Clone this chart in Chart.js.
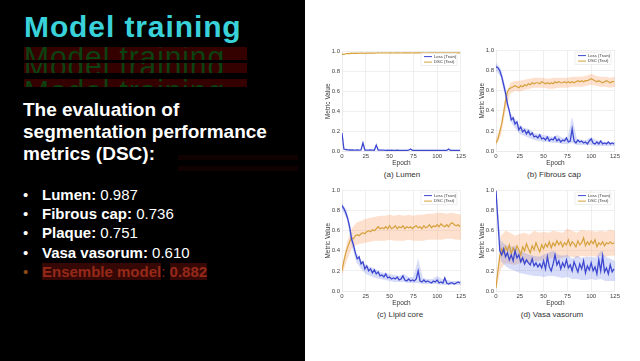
<!DOCTYPE html>
<html>
<head>
<meta charset="utf-8">
<script src="https://cdn.jsdelivr.net/npm/chart.js@4.4.1/dist/chart.umd.min.js"></script>
<style>
html, body { margin: 0; padding: 0; }
body { width: 640px; height: 361px; position: relative; overflow: hidden; background: #fff; font-family: "Liberation Sans", Arial, sans-serif; }
#left { position: absolute; left: 0; top: 0; width: 305px; height: 361px; background: #000; overflow: hidden; }
.title { position: absolute; left: 24px; top: 12px; font-size: 30px; line-height: 30px; font-weight: bold; color: #3ad2da; letter-spacing: 0.9px; white-space: nowrap; }
.ghost { position: absolute; left: 24px; width: 223px; background: #350000; overflow: hidden; }
.ghost span { position: absolute; left: 0; font-size: 30px; line-height: 30px; color: #0b4210; white-space: nowrap; letter-spacing: 0.9px; }
.faint { position: absolute; left: 178px; width: 120px; height: 5px; background: #110202; }
.intro { position: absolute; left: 23px; top: 99px; font-size: 19px; line-height: 22px; font-weight: bold; color: #fff; white-space: nowrap; }
.bullets { position: absolute; left: 23px; top: 185px; margin: 0; padding: 0; list-style: none; font-size: 15px; line-height: 19.2px; color: #fff; white-space: nowrap; }
.bullets li { position: relative; padding-left: 19px; }
.bullets li:before { content: "\2022"; position: absolute; left: 0; }
.bullets b { font-weight: bold; }
.bullets li.ens { color: #962818; }
.bullets li.ens:before { color: #8a4b1a; }
.hl { background: #350806; font-weight: bold; }
canvas { position: absolute; }
.cap { position: absolute; width: 120px; margin-left: -60px; text-align: center; font-size: 8px; line-height: 10px; color: #333; white-space: nowrap; }
</style>
</head>
<body>
<div id="left">
  <div class="title">Model training</div>
  <div class="ghost" style="top:47px;height:13px"><span style="top:-5px">Model training</span></div>
  <div class="ghost" style="top:63px;height:10px"><span style="top:-12px">Model training</span></div>
  <div class="ghost" style="top:79px;height:8px"><span style="top:-3px">Model training</span></div>
  <div class="faint" style="top:155px"></div>
  <div class="faint" style="top:166px"></div>
  <div class="intro">The evaluation of<br>segmentation performance<br>metrics (DSC):</div>
  <ul class="bullets">
    <li><b>Lumen:</b> 0.987</li>
    <li><b>Fibrous cap:</b> 0.736</li>
    <li><b>Plaque:</b> 0.751</li>
    <li><b>Vasa vasorum:</b> 0.610</li>
    <li class="ens"><span class="hl">Ensemble model</span>: <span class="hl">0.882</span></li>
  </ul>
</div>

<canvas id="chartLumen" width="144" height="121" style="left:324px;top:46px"></canvas>
<canvas id="chartFibrous" width="144" height="122" style="left:478px;top:45px"></canvas>
<canvas id="chartLipid" width="144" height="122" style="left:324px;top:185px"></canvas>
<canvas id="chartVasa" width="144" height="122" style="left:478px;top:185px"></canvas>

<div class="cap" style="left:402px;top:170px">(a) Lumen</div>
<div class="cap" style="left:554px;top:170px">(b) Fibrous cap</div>
<div class="cap" style="left:400px;top:310px">(c) Lipid core</div>
<div class="cap" style="left:552px;top:310px">(d) Vasa vasorum</div>

<script>
// epochs for the mean curves (every 2nd epoch) and for the std bands (every 5th)
var EPOCHS = [0,2,4,6,8,10,12,14,16,18,20,22,24,26,28,30,32,34,36,38,40,42,44,46,48,50,52,54,56,58,
  60,62,64,66,68,70,72,74,76,78,80,82,84,86,88,90,92,94,96,98,100,102,104,106,108,110,112,114,116,118,120,122,124];
var BAND_EPOCHS = [0,5,10,15,20,25,30,35,40,45,50,55,60,65,70,75,80,85,90,95,100,105,110,115,120,125];
var X_TICKS = [0,25,50,75,100,125];
var Y_TICKS = [0,0.2,0.4,0.6,0.8,1.0];

// (a) Lumen
var lumenLoss = [0.18,0.02,0.015,0.012,0.01,0.012,0.01,0.009,0.01,0.008,
  0.01,0.08,0.01,0.009,0.008,0.01,0.009,0.008,0.06,0.01,
  0.009,0.008,0.008,0.007,0.008,0.007,0.008,0.007,0.007,0.008,
  0.007,0.006,0.007,0.006,0.007,0.008,0.02,0.007,0.006,0.006,
  0.006,0.007,0.006,0.005,0.006,0.006,0.005,0.006,0.005,0.006,
  0.005,0.005,0.006,0.005,0.005,0.006,0.02,0.005,0.005,0.005,
  0.005,0.005,0.005];
var lumenDsc = [0.975,0.972,0.978,0.982,0.980,0.984,0.983,0.985,0.982,0.986,
  0.984,0.986,0.983,0.985,0.986,0.984,0.986,0.985,0.986,0.987,
  0.986,0.987,0.986,0.987,0.986,0.987,0.987,0.986,0.987,0.987,
  0.987,0.986,0.987,0.987,0.988,0.987,0.987,0.986,0.987,0.987,
  0.987,0.988,0.987,0.987,0.986,0.987,0.987,0.988,0.987,0.987,
  0.987,0.987,0.988,0.987,0.987,0.987,0.988,0.987,0.987,0.987,
  0.987,0.988,0.987];

// (b) Fibrous cap
var fibLoss = [0.84,0.83,0.80,0.74,0.66,0.58,0.47,0.40,0.31,0.33,
  0.27,0.29,0.21,0.24,0.19,0.21,0.17,0.20,0.16,0.18,
  0.14,0.15,0.13,0.16,0.12,0.13,0.11,0.14,0.10,0.12,
  0.11,0.14,0.10,0.12,0.09,0.11,0.10,0.13,0.09,0.10,
  0.22,0.10,0.08,0.11,0.09,0.10,0.08,0.09,0.07,0.10,
  0.12,0.08,0.07,0.09,0.07,0.10,0.07,0.08,0.07,0.09,
  0.07,0.08,0.07];
var fibDsc = [0.08,0.12,0.19,0.27,0.38,0.50,0.59,0.62,0.63,0.64,
  0.65,0.64,0.63,0.65,0.64,0.66,0.65,0.67,0.66,0.68,
  0.67,0.68,0.68,0.67,0.69,0.68,0.67,0.68,0.67,0.68,
  0.67,0.69,0.68,0.69,0.68,0.68,0.69,0.68,0.69,0.68,
  0.69,0.68,0.69,0.70,0.69,0.70,0.69,0.70,0.70,0.71,
  0.72,0.71,0.70,0.69,0.70,0.69,0.68,0.69,0.70,0.69,
  0.68,0.69,0.69];
var fibLossHi = [0.88,0.82,0.64,0.38,0.32,0.25,0.23,0.22,0.18,0.17,0.16,0.15,0.14,0.16,0.13,0.13,0.34,0.12,0.11,0.11,0.14,0.11,0.10,0.09,0.09,0.09];
var fibLossLo = [0.80,0.74,0.52,0.30,0.23,0.17,0.15,0.13,0.11,0.10,0.09,0.09,0.08,0.08,0.07,0.07,0.08,0.06,0.06,0.06,0.06,0.05,0.05,0.05,0.05,0.05];
var fibDscHi = [0.12,0.26,0.55,0.68,0.70,0.70,0.71,0.72,0.73,0.73,0.73,0.72,0.73,0.73,0.73,0.73,0.74,0.74,0.74,0.75,0.77,0.75,0.74,0.74,0.73,0.74];
var fibDscLo = [0.05,0.15,0.40,0.57,0.60,0.59,0.61,0.62,0.63,0.63,0.63,0.62,0.62,0.63,0.63,0.63,0.64,0.64,0.64,0.65,0.66,0.65,0.64,0.64,0.63,0.64];

// (c) Lipid core
var lipLoss = [0.85,0.82,0.78,0.72,0.64,0.52,0.46,0.38,0.32,0.34,
  0.27,0.29,0.22,0.25,0.20,0.22,0.18,0.21,0.17,0.19,
  0.15,0.16,0.14,0.17,0.13,0.14,0.12,0.13,0.12,0.14,
  0.11,0.12,0.15,0.11,0.10,0.12,0.10,0.11,0.10,0.12,
  0.20,0.10,0.09,0.11,0.09,0.10,0.09,0.08,0.10,0.09,
  0.11,0.08,0.09,0.08,0.13,0.08,0.07,0.08,0.08,0.07,
  0.08,0.09,0.08];
var lipDsc = [0.20,0.30,0.38,0.44,0.49,0.53,0.52,0.55,0.56,0.55,
  0.57,0.58,0.57,0.59,0.60,0.59,0.61,0.60,0.62,0.64,
  0.62,0.63,0.62,0.64,0.62,0.65,0.62,0.63,0.65,0.62,
  0.64,0.63,0.65,0.62,0.64,0.63,0.64,0.62,0.64,0.65,
  0.63,0.64,0.62,0.65,0.63,0.64,0.66,0.63,0.65,0.64,
  0.66,0.64,0.67,0.65,0.64,0.66,0.64,0.67,0.68,0.66,
  0.65,0.66,0.64];
var lipLossHi = [0.88,0.80,0.58,0.38,0.31,0.26,0.24,0.22,0.19,0.18,0.17,0.16,0.15,0.17,0.14,0.14,0.32,0.13,0.12,0.12,0.15,0.12,0.11,0.10,0.10,0.10];
var lipLossLo = [0.81,0.72,0.46,0.29,0.22,0.17,0.15,0.13,0.12,0.11,0.10,0.09,0.09,0.09,0.08,0.08,0.08,0.07,0.07,0.07,0.07,0.06,0.06,0.06,0.06,0.06];
var lipDscHi = [0.24,0.48,0.62,0.68,0.70,0.72,0.73,0.74,0.75,0.75,0.76,0.75,0.76,0.75,0.76,0.75,0.76,0.76,0.77,0.77,0.78,0.78,0.77,0.78,0.77,0.76];
var lipDscLo = [0.16,0.30,0.42,0.46,0.47,0.48,0.49,0.50,0.50,0.50,0.51,0.50,0.50,0.50,0.51,0.50,0.50,0.50,0.51,0.51,0.51,0.51,0.52,0.52,0.51,0.51];

// (d) Vasa vasorum
var vasaLoss = [1.00,0.70,0.40,0.36,0.42,0.34,0.38,0.31,0.36,0.30,
  0.40,0.33,0.36,0.29,0.33,0.27,0.31,0.28,0.26,0.32,
  0.25,0.28,0.24,0.27,0.23,0.30,0.22,0.34,0.24,0.20,
  0.27,0.36,0.26,0.30,0.22,0.28,0.24,0.31,0.23,0.26,
  0.20,0.29,0.24,0.19,0.27,0.22,0.30,0.18,0.25,0.21,
  0.28,0.20,0.24,0.17,0.31,0.20,0.35,0.19,0.23,0.17,
  0.26,0.19,0.22];
var vasaDsc = [0.03,0.20,0.35,0.42,0.38,0.44,0.40,0.46,0.37,0.43,
  0.39,0.45,0.41,0.36,0.44,0.40,0.47,0.42,0.38,0.45,
  0.41,0.48,0.43,0.39,0.46,0.42,0.47,0.44,0.49,0.43,
  0.48,0.45,0.50,0.46,0.49,0.44,0.48,0.46,0.51,0.45,
  0.49,0.47,0.44,0.50,0.46,0.48,0.53,0.45,0.49,0.46,
  0.50,0.47,0.51,0.44,0.48,0.46,0.49,0.45,0.48,0.47,
  0.49,0.47,0.48];
var vasaLossHi = [1.00,0.50,0.46,0.44,0.45,0.40,0.38,0.36,0.35,0.34,0.36,0.38,0.40,0.36,0.35,0.36,0.32,0.35,0.33,0.34,0.34,0.33,0.40,0.34,0.32,0.30];
var vasaLossLo = [0.98,0.30,0.25,0.22,0.20,0.18,0.17,0.16,0.15,0.15,0.14,0.15,0.15,0.14,0.13,0.14,0.12,0.12,0.11,0.11,0.12,0.11,0.12,0.10,0.10,0.10];
var vasaDscHi = [0.05,0.55,0.60,0.58,0.55,0.57,0.58,0.56,0.60,0.58,0.59,0.58,0.60,0.59,0.58,0.62,0.60,0.58,0.61,0.60,0.60,0.59,0.60,0.59,0.61,0.60];
var vasaDscLo = [0.01,0.22,0.28,0.27,0.26,0.28,0.29,0.28,0.30,0.30,0.31,0.32,0.33,0.32,0.33,0.34,0.34,0.33,0.35,0.34,0.35,0.34,0.35,0.34,0.35,0.35];

var BLUE = '#3d47d0';
var GOLD = '#d6a13c';
var BLUE_BAND = 'rgba(110,130,235,0.28)';
var GOLD_BAND = 'rgba(250,170,115,0.35)';
var GRID = '#ebebeb';

Chart.defaults.font.family = '"Liberation Sans", Arial, sans-serif';

function pts(xs, ys) {
  return xs.map(function(x, i) { return {x: x, y: ys[i]}; });
}

// legend drawn inside the plot, upper right
var insideLegend = {
  id: 'insideLegend',
  afterDatasetsDraw: function(chart) {
    var ctx = chart.ctx, a = chart.chartArea;
    var bx = a.right - 40, by = a.top + 1.5, bw = 36, bh = 12.5;
    ctx.save();
    ctx.fillStyle = 'rgba(255,255,255,0.85)';
    ctx.strokeStyle = '#dddddd';
    ctx.lineWidth = 0.5;
    ctx.fillRect(bx, by, bw, bh);
    ctx.strokeRect(bx, by, bw, bh);
    var rows = [['Loss (Train)', BLUE], ['DSC (Test)', GOLD]];
    ctx.font = '4.2px "Liberation Sans", Arial, sans-serif';
    ctx.textBaseline = 'middle';
    rows.forEach(function(r, i) {
      var y = by + 3.5 + i * 5.5;
      ctx.strokeStyle = r[1];
      ctx.lineWidth = 1;
      ctx.beginPath();
      ctx.moveTo(bx + 3, y);
      ctx.lineTo(bx + 11, y);
      ctx.stroke();
      ctx.fillStyle = '#333';
      ctx.fillText(r[0], bx + 13, y);
    });
    ctx.restore();
  }
};

function makeChart(id, loss, dsc, bands) {
  var datasets = [
    {data: pts(EPOCHS, loss), borderColor: BLUE, borderWidth: 1.3, pointRadius: 0, fill: false, order: 0},
    {data: pts(EPOCHS, dsc), borderColor: GOLD, borderWidth: 1.2, pointRadius: 0, fill: false, order: 1}
  ];
  if (bands) {
    datasets.push({data: pts(BAND_EPOCHS, bands.lossLo), borderWidth: 0, pointRadius: 0, fill: false, order: 2});
    datasets.push({data: pts(BAND_EPOCHS, bands.lossHi), borderWidth: 0, pointRadius: 0, fill: 2, backgroundColor: BLUE_BAND, order: 2});
    datasets.push({data: pts(BAND_EPOCHS, bands.dscLo), borderWidth: 0, pointRadius: 0, fill: false, order: 3});
    datasets.push({data: pts(BAND_EPOCHS, bands.dscHi), borderWidth: 0, pointRadius: 0, fill: 4, backgroundColor: GOLD_BAND, order: 3});
  }
  return new Chart(document.getElementById(id).getContext('2d'), {
    type: 'line',
    data: {datasets: datasets},
    options: {
      responsive: false,
      animation: false,
      layout: {padding: {top: 4, right: 5, left: 0, bottom: 0}},
      plugins: {legend: {display: false}, tooltip: {enabled: false}},
      scales: {
        x: {
          type: 'linear', min: 0, max: 125,
          afterBuildTicks: function(s) { s.ticks = X_TICKS.map(function(v) { return {value: v}; }); },
          ticks: {font: {size: 6}, color: '#444', padding: 2, maxRotation: 0},
          grid: {color: GRID, lineWidth: 0.8, drawTicks: false},
          border: {color: GRID},
          title: {display: true, text: 'Epoch', font: {size: 6.5}, color: '#333', padding: {top: 1, bottom: 0}},
          afterFit: function(s) { s.height = 16; }
        },
        y: {
          min: 0, max: 1,
          afterBuildTicks: function(s) { s.ticks = Y_TICKS.map(function(v) { return {value: v}; }); },
          ticks: {font: {size: 6}, color: '#444', padding: 2, callback: function(v) { return v.toFixed(1); }},
          grid: {color: GRID, lineWidth: 0.8, drawTicks: false},
          border: {color: GRID},
          title: {display: true, text: 'Metric Value', font: {size: 6.5}, color: '#333', padding: {top: 0, bottom: 1}},
          afterFit: function(s) { s.width = 18; }
        }
      }
    },
    plugins: [insideLegend]
  });
}

makeChart('chartLumen', lumenLoss, lumenDsc, null);
makeChart('chartFibrous', fibLoss, fibDsc, {lossLo: fibLossLo, lossHi: fibLossHi, dscLo: fibDscLo, dscHi: fibDscHi});
makeChart('chartLipid', lipLoss, lipDsc, {lossLo: lipLossLo, lossHi: lipLossHi, dscLo: lipDscLo, dscHi: lipDscHi});
makeChart('chartVasa', vasaLoss, vasaDsc, {lossLo: vasaLossLo, lossHi: vasaLossHi, dscLo: vasaDscLo, dscHi: vasaDscHi});
</script>
</body>
</html>
